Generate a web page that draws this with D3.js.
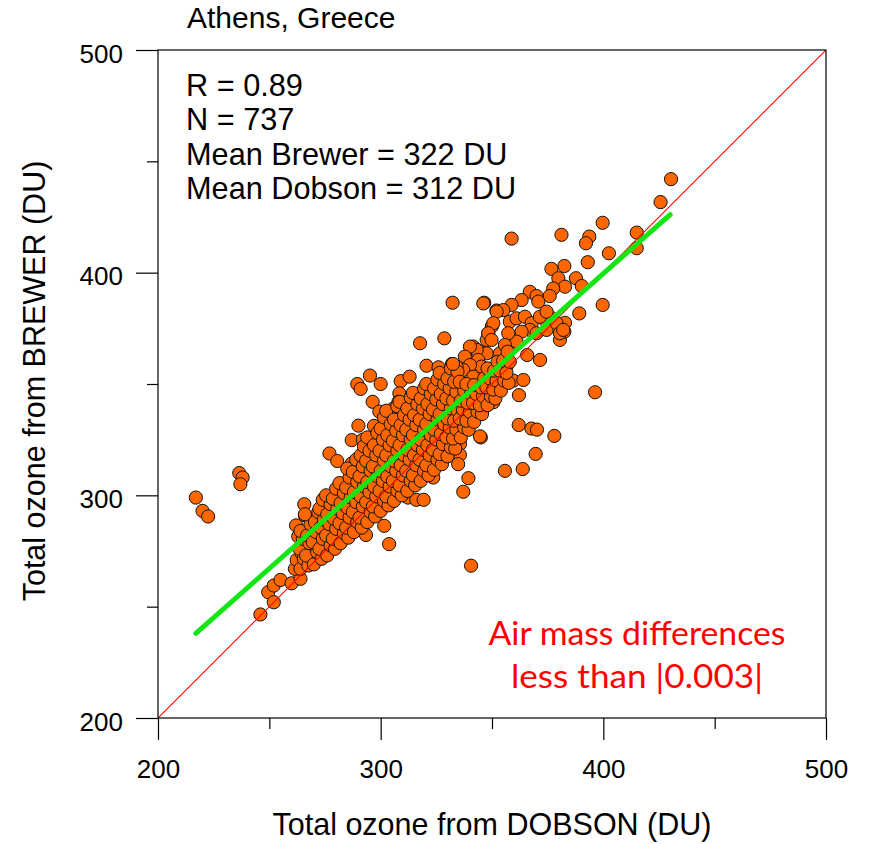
<!DOCTYPE html>
<html>
<head>
<meta charset="utf-8">
<script src="https://cdn.jsdelivr.net/npm/d3@7"></script>
<style>
  body { margin: 0; background: #fff; }
</style>
</head>
<body>
<svg id="chart" width="870" height="844"></svg>
<script>
// Station, statistics and annotation texts
const site = "Athens, Greece";
const stats = ["R = 0.89", "N = 737", "Mean Brewer = 322 DU", "Mean Dobson = 312 DU"];
const note = ["Air mass differences", "less than |0.003|"];
const xTitle = "Total ozone from DOBSON (DU)";
const yTitle = "Total ozone from BREWER (DU)";

// Axis ticks (DU)
const majorTicks = [200, 300, 400, 500];
const minorTicks = [250, 350, 450];

// Linear regression Brewer = slope * Dobson + intercept, over the Dobson range of the data
const fitSlope = 0.883;
const fitIntercept = 46.4;
const fitRange = [217, 430];

// Daily pairs [Dobson, Brewer] in DU
const pointsSparse = [
  [217,299],[220,293],[222.5,290.5],[236.5,310],[238,308],[237,305],
  [246,246.5],[249.5,256.5],[252,252],[252,259.5],[255,262],[260,260.5],[264,262.5],
  [261.5,267],[262.3,271],[264.5,274],[263,281.5],[262,286.5],[265.7,296],[266,291],
  [266.8,270],[269.8,269.5],[271,271.6],[274.2,275.4],
  [275,296.4],[277,318.8],[280.5,315.4],[287,314.3],[287,324.8],[292,325],
  [289.5,350],[291,347.8],[295.2,353.8],[300,350],[309,351.3],[313,353.3],[308.4,345.8],
  [290,331.3],[297,331.2],[296.4,342],[299.4,337.6],[305.7,339],[308,342],
  [293.4,282.2],[301.6,286.3],[303.8,278.1],[312.3,299],[316,298],[319.3,298],
  [317.7,368.3],[328.6,370.5],[320.6,358.2],[326,357.5],[332,359],[334,356.3],
  [332.3,386.5],[346.5,386.5],[352,383],[343.6,363.8],[341.6,366.8],[344.6,364.7],
  [348.3,372.7],[350,376],[347.6,369.8],
  [336.3,332.3],[345,326],[335.6,323],[335.6,318.2],[334.8,314],[339.4,307.7],[337.1,301.6],[323.6,308],
  [350.6,341.8],[340.6,268.4],
  [362,331.6],[367.7,330],[370.2,329.5],[378,326.7],[344.6,326.5],
  [369.6,318.6],[363.8,311.8],[355.8,311],
  [430.4,442],[425.7,431.7],[399.7,422.4],[381.2,417],[393.7,416.2],[392.2,413.2],[358.8,415.3],
  [415,418],[415,411],[402.5,408.7],[393,404.7],[382.5,403],[376.7,401.7],
  [379.8,397.5],[382.8,393.7],[387.7,397.5],[390.3,394],[377.5,392.9],[375.9,389.5],[367,391.4],
  [370,389.5],[363.3,387.7],
  [399.7,385.5],[389.2,381.7],[380.5,369.8],[382.5,373.5],[382.8,377.5],[376,380.2],[373.8,378.7],
  [371.6,360.8],[365.8,363],
  [396.3,346.3],[362.1,345],[359.6,351.5],[364.1,351.8],[346.1,386.2],
  [358.8,385.5],[355.1,383.2],[352.1,382.5],[350.6,377.3],[348.3,372.8],[349.8,369.8],[353.6,363.8],
  [358,378],[361,379.5],[364.8,380.2],[367.8,377.3],[367,374.3],[363.3,373.5],[361,369],[357.3,372.8],
  [355.8,367.5],[347.6,363.8],[343.1,365.3],[340.1,366.8],[337.8,362.3],[343.8,360.8],[345.3,357.8],
  [340.1,358.5],[337.1,356.3],[334.1,357.8],[333.3,353.3],[341.6,353.3],[335.6,348.8],[338.6,345.8],
  [343.1,342.8],[332.6,342.8],[371.5,380.2],[374.5,382.5],[370.8,387],[349,354.8],[353.6,353.3],
  [346.1,348.8],[356.5,357.8],[370,372.8],[374.5,374.3],[379,377.3],[380.5,372.8],[382,374.3]
];

const pointsCore = [
  [264,267],[265.5,271.5],[263.5,276],[265,280.5],[264,284],
  [267.5,268.5],[266.5,273],[268,278.5],[267,282],[268.5,287],[266,291.5],
  [270,269],[271.5,274.5],[269.5,279],[271,283.5],[270.5,288],[272,292.5],
  [273.5,271.5],[272.5,276],[274,280.5],[273,285.5],[274.5,289],[272.5,294],[274,298],
  [276,273],[277.5,277.5],[275.5,282],[277,287],[276,291.5],[277.5,296],[275.5,300],
  [279.5,276],[278.5,280.5],[280,285],[279,289.5],[280.5,294],[278.5,298.5],[280,303],
  [282,278.5],[283.5,283],[281.5,287.5],[283,292],[282,296.5],[283.5,301],[281.5,305.5],
  [285.5,281],[284.5,285.5],[286,290],[285,294.5],[286.5,299],[284.5,303.5],[286,308],[285,312],
  [288,283.5],[289.5,288],[287.5,292.5],[289,297],[288,301.5],[289.5,306],[287.5,310.5],[289,316],
  [291.5,285.5],[290.5,290],[292,295],[291,299.5],[292.5,304],[290.5,308.5],[292,313],[291,318],[292.5,322],
  [294,288],[295.5,292.5],[293.5,297],[295,301.5],[294,306],[295.5,311],[293.5,315.5],[295,320],[294,326],
  [297.5,290.5],[296.5,295],[298,299.5],[297,304],[298.5,308.5],[296.5,313],[298,318],[297,322.5],[298.5,328],
  [300,293],[301.5,297.5],[299.5,302],[301,306.5],[300,311],[301.5,315.5],[299.5,320],[301,325],[300,330],[301.5,335],
  [303.5,295.5],[302.5,299.5],[304,304],[303,308.5],[304.5,313],[302.5,318],[304,322.5],[303,327],[304.5,332],[302.5,338],
  [306,297.5],[307.5,302],[305.5,306.5],[307,311],[306,315.5],[307.5,320],[305.5,324.5],[307,329],[306,334],[307.5,340],
  [309.5,300],[308.5,304.5],[310,309],[309,313.5],[310.5,318],[308.5,322.5],[310,327],[309,331.5],[310.5,336],[308.5,342],
  [312,302],[313.5,306.5],[311.5,311],[313,316],[312,320.5],[313.5,325],[311.5,329.5],[313,334],[312,339],[313.5,344],
  [315.5,304.5],[314.5,309],[316,313.5],[315,318],[316.5,322.5],[314.5,327],[316,331.5],[315,336],[316.5,341],[314.5,346],
  [318,306.5],[319.5,311],[317.5,316],[319,320.5],[318,325],[319.5,329.5],[317.5,334],[319,339],[318,343.5],[319.5,348],
  [321.5,309],[320.5,313.5],[322,318],[321,322.5],[322.5,327],[320.5,332],[322,336.5],[321,341],[322.5,345.5],[320.5,350],
  [324,311.5],[325.5,316],[323.5,320.5],[325,325],[324,329.5],[325.5,334],[323.5,338.5],[325,343],[324,348],[325.5,352],
  [327.5,314],[326.5,318.5],[328,323],[327,327.5],[328.5,332],[326.5,336.5],[328,341],[327,345.5],[328.5,350],[326.5,355],
  [330,317.5],[331.5,321.5],[329.5,326],[331,330.5],[330,334.5],[331.5,339],[329.5,343.5],[331,348],[330,352.5],[331.5,357],
  [333.5,321],[332.5,325.5],[334,329.5],[333,333.5],[334.5,338],[332.5,342.5],[334,346.5],[333,351],[334.5,355.5],[332.5,359],
  [336,326],[337.5,330.5],[335.5,334.5],[337,338.5],[336,342.5],[337.5,347],[335.5,351],
  [339.5,329.5],[338.5,333.5],[340,337.5],[339,341.5],[340.5,345.5],[338.5,350],
  [342,333],[343.5,337.5],[341.5,341.5],[343,345.5],[342,349.5],
  [345.5,336.5],[344.5,340.5],[346,344.5],[345,348.5],[346.5,352.5],
  [348,340.5],[349.5,344.5],[347.5,348.5],[349,352.5],[348,357],
  [351.5,343.5],[350.5,347.5],[352,351.5],[351,356],[352.5,360],
  [354,347],[355.5,351.5],[353.5,356],[355,360.5],
  [357.5,350.5],[356.5,355],[358,360],[357,364.5]
];

const sans = "'Liberation Sans', Arial, sans-serif";
const svg = d3.select("#chart");
const x = d3.scaleLinear().domain([200, 500]).range([158, 826]);
const y = d3.scaleLinear().domain([200, 500]).range([718, 50]);

// Minor ticks
svg.append("g").attr("transform", "translate(0,718)")
  .call(d3.axisBottom(x).tickValues(minorTicks).tickSize(11).tickSizeOuter(0).tickFormat(""))
  .call(g => g.select(".domain").remove());
svg.append("g").attr("transform", "translate(158,0)")
  .call(d3.axisLeft(y).tickValues(minorTicks).tickSize(11).tickSizeOuter(0).tickFormat(""))
  .call(g => g.select(".domain").remove());

// Major ticks with labels
svg.append("g").attr("transform", "translate(0,718)")
  .call(d3.axisBottom(x).tickValues(majorTicks).tickSize(22).tickSizeOuter(0).tickPadding(19.5).tickFormat(d3.format("d")))
  .call(g => g.select(".domain").remove());
const yAxis = svg.append("g").attr("transform", "translate(158,0)")
  .call(d3.axisLeft(y).tickValues(majorTicks).tickSize(22).tickSizeOuter(0).tickPadding(13).tickFormat(d3.format("d")))
  .call(g => g.select(".domain").remove());
svg.selectAll(".tick line").attr("stroke", "#000").attr("stroke-width", 1.2);
svg.selectAll(".tick text").style("font-family", sans)
  .style("font-size", "26px").style("fill", "#000");
yAxis.selectAll(".tick text").attr("dy", "12px");

// Clip to the plotting frame
svg.append("clipPath").attr("id", "plotClip")
  .append("rect").attr("x", 158).attr("y", 50).attr("width", 668).attr("height", 668);

const plot = svg.append("g").attr("clip-path", "url(#plotClip)");

// Scatter
plot.append("g").selectAll("circle")
  .data(pointsSparse.concat(pointsCore))
  .join("circle")
  .attr("cx", d => x(d[0]))
  .attr("cy", d => y(d[1]))
  .attr("r", 6.6)
  .style("fill", "#ff6600")
  .style("stroke", "#111")
  .style("stroke-width", 1);

// 1:1 line
plot.append("line")
  .attr("x1", x(200)).attr("y1", y(200))
  .attr("x2", x(500)).attr("y2", y(500))
  .style("stroke", "#ff0000").style("stroke-width", 1.1);

// Regression line
plot.append("line")
  .attr("x1", x(fitRange[0])).attr("y1", y(fitSlope * fitRange[0] + fitIntercept))
  .attr("x2", x(fitRange[1])).attr("y2", y(fitSlope * fitRange[1] + fitIntercept))
  .style("stroke", "#14e614").style("stroke-width", 5).style("stroke-linecap", "round");

// Frame
svg.append("rect")
  .attr("x", 158).attr("y", 50).attr("width", 668).attr("height", 668)
  .style("fill", "none").style("stroke", "#000").style("stroke-width", 1.2);

// Station name
svg.append("text").attr("x", 187).attr("y", 28)
  .style("font-family", sans).style("font-size", "30px").text(site);

// Statistics block
svg.append("g").selectAll("text").data(stats).join("text")
  .attr("x", 186).attr("y", (d, i) => 95.5 + i * 34.5)
  .style("font-family", sans).style("font-size", "30.7px")
  .text(d => d);

// Air mass note
const noteWidths = [297, 252];
svg.append("g").selectAll("text").data(note).join("text")
  .attr("x", 637).attr("y", (d, i) => 645 + i * 43)
  .attr("text-anchor", "middle")
  .attr("textLength", (d, i) => noteWidths[i])
  .attr("lengthAdjust", "spacingAndGlyphs")
  .style("font-family", "Lato, 'Open Sans', sans-serif")
  .style("font-size", "32px")
  .style("fill", "#ff0000")
  .text(d => d);

// Axis titles
svg.append("text").attr("x", 492).attr("y", 835)
  .attr("text-anchor", "middle")
  .style("font-family", sans).style("font-size", "30.5px").text(xTitle);
svg.append("text")
  .attr("transform", "translate(45,381) rotate(-90)")
  .attr("text-anchor", "middle")
  .style("font-family", sans).style("font-size", "30.5px").text(yTitle);
</script>
</body>
</html>
